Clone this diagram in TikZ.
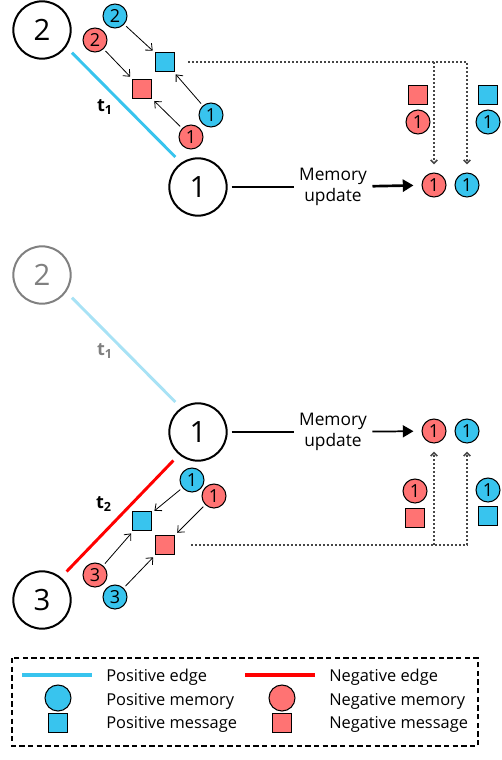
\documentclass[tikz,border=0pt]{standalone}
\usepackage{fontspec}
\setmainfont{Open Sans}
\usetikzlibrary{positioning, arrows.meta, calc}
\definecolor{posblue}{RGB}{56,196,238}
\definecolor{negred}{RGB}{255,115,115}
\definecolor{paleblue}{RGB}{168,226,245}
\definecolor{dotgray}{RGB}{70,70,70}
\tikzset{
  bignode/.style={circle, draw, line width=1.5pt, minimum size=43pt, inner sep=0pt, font=\fontsize{22}{22}\selectfont},
  posmem/.style={circle, draw, fill=posblue, line width=0.8pt, minimum size=18pt, inner sep=0pt, font=\fontsize{13.5}{13.5}\selectfont},
  negmem/.style={posmem, fill=negred},
  posmsg/.style={rectangle, draw, fill=posblue, line width=0.8pt, minimum size=14pt, inner sep=0pt},
  negmsg/.style={posmsg, fill=negred},
  posedge/.style={posblue, line width=2.2pt, shorten <=6pt, shorten >=6pt},
  msgarrow/.style={line width=0.6pt, -{Straight Barb[length=4pt,width=7pt]}, shorten <=2pt, shorten >=2.5pt},
  dotline/.style={dotgray, line width=1.2pt, dash pattern=on 1.5pt off 1.5pt, -{Straight Barb[length=2.5pt,width=5pt]}},
  tlabel/.style={font=\fontsize{13.5}{13.5}\selectfont},
  memtext/.style={align=center, inner sep=4pt, font=\fontsize{13}{16}\selectfont},
  legtext/.style={anchor=west, inner sep=0pt, font=\fontsize{12.3}{12.3}\selectfont}
}
\begin{document}
\begin{tikzpicture}[x=0.75pt, y=-0.75pt]
  \useasboundingbox (0,0) rectangle (502,760);

  % first interaction t1
  \node[bignode] (a2) at (42,30) {2};
  \node[bignode] (a1) at (198,187) {1};
  \draw[posedge] (a2.-35) -- (a1.125);
  \node[tlabel] (ta) at (105,107) {\textbf{t\textsubscript{1}}};
  \node[posmem] (ab2) at (115,16) {2};
  \node[negmem] (ar2) at (95,40) {2};
  \node[posmsg] (absq) at (165,62) {};
  \node[negmsg] (arsq) at (142,89) {};
  \node[posmem] (ab1) at (211,115) {1};
  \node[negmem] (ar1) at (191,137) {1};
  \draw[msgarrow] (ab2) -- (absq);
  \draw[msgarrow] (ar2) -- (arsq);
  \draw[msgarrow] (ab1) -- (absq);
  \draw[msgarrow] (ar1) -- (arsq);
  \node[memtext] (amu) at (333,187) {Memory\\update};
  \node[negmem] (arm) at (434,185) {1};
  \node[posmem] (abm) at (467,185) {1};
  \draw[line width=2pt, shorten <=3pt] (a1) -- (amu);
  \draw[line width=2pt, -{Triangle[length=8pt,width=9pt]}, shorten >=6pt] (amu) -- (arm);
  \node[negmsg] (arq) at (418,95) {};
  \node[negmem] (arc) at (418,122) {1};
  \node[posmsg] (abq) at (488,95) {};
  \node[posmem] (abc) at (488,122) {1};
  \draw[dotline] ([xshift=10pt]absq.east) -| ([yshift=6pt]abm.north);
  \draw[dotline] (arm.north |- absq.east) -- ([yshift=6pt]arm.north);

  % second interaction t2
  \node[bignode, gray, text=gray] (b2) at (42,275) {2};
  \node[bignode] (b1) at (198,432) {1};
  \draw[posedge, paleblue] (b2.-35) -- (b1.125);
  \node[tlabel, gray] (tb) at (105,351) {\textbf{t\textsubscript{1}}};
  \node[bignode] (b3) at (42,600) {3};
  \draw[posedge, red] (b3.50) -- (b1.230);
  \node[tlabel] (tc) at (104,504) {\textbf{t\textsubscript{2}}};
  \node[posmem] (bb1) at (192,480) {1};
  \node[negmem] (br1) at (214,496) {1};
  \node[posmsg] (bbsq) at (142,521) {};
  \node[negmsg] (brsq) at (165,545) {};
  \node[negmem] (br3) at (95,575) {3};
  \node[posmem] (bb3) at (115,597) {3};
  \draw[msgarrow] (bb1) -- (bbsq);
  \draw[msgarrow] (br1) -- (brsq);
  \draw[msgarrow] (br3) -- (bbsq);
  \draw[msgarrow] (bb3) -- (brsq);
  \node[memtext] (bmu) at (333,432) {Memory\\update};
  \node[negmem] (brm) at (434,431) {1};
  \node[posmem] (bbm) at (467,431) {1};
  \draw[line width=1.3pt, shorten <=3pt] (b1) -- (bmu);
  \draw[line width=1.3pt, -{Triangle[length=8pt,width=9pt]}, shorten >=6pt] (bmu) -- (brm);
  \node[negmem] (brc) at (415,491) {1};
  \node[negmsg] (brq) at (415,518) {};
  \node[posmem] (bbc) at (488,490) {1};
  \node[posmsg] (bbq) at (488,516) {};
  \draw[dotline] ([xshift=12pt]brsq.east) -| ([yshift=-6pt]bbm.south);
  \draw[dotline] (brm.south |- brsq.east) -- ([yshift=-6pt]brm.south);

  % legend
  \draw[line width=1pt, dash pattern=on 4pt off 2.5pt] (12,658) rectangle (478,746);
  \draw[posblue, line width=2.5pt] (22,675) -- (92,675);
  \draw[red, line width=2.5pt] (245,675) -- (315,675);
  \node[posmem, minimum size=19.5pt] (lpm) at (58,698) {};
  \node[posmsg] (lps) at (58,723) {};
  \node[negmem, minimum size=19.5pt] (lnm) at (282,698) {};
  \node[negmsg] (lns) at (282,723) {};
  \node[legtext] (lpe) at (106,677) {Positive edge};
  \node[legtext] (lpmt) at (106,701) {Positive memory};
  \node[legtext] (lpst) at (106,724) {Positive message};
  \node[legtext] (lne) at (329,677) {Negative edge};
  \node[legtext] (lnmt) at (329,701) {Negative memory};
  \node[legtext] (lnst) at (329,724) {Negative message};
\end{tikzpicture}
\end{document}
